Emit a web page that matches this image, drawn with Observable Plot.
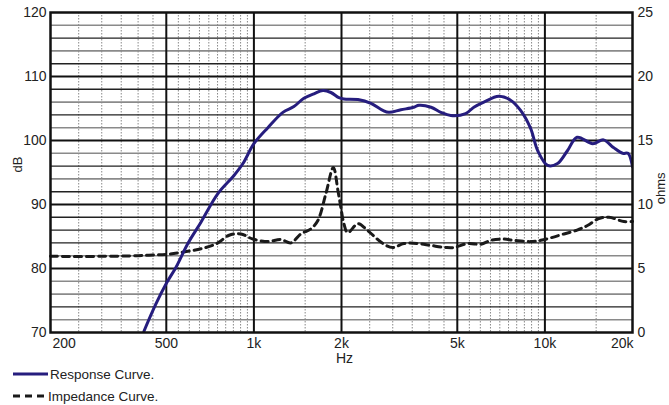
<!DOCTYPE html>
<html>
<head>
<meta charset="utf-8">
<script src="https://cdn.jsdelivr.net/npm/d3@7"></script>
<script src="https://cdn.jsdelivr.net/npm/@observablehq/plot@0.6"></script>
<style>
  body { margin: 0; background: #fff; font-family: "Liberation Sans", Arial, sans-serif; }
  #chart svg { display: block; }
  .legend { font-family: "Liberation Sans", Arial, sans-serif; font-size: 13.5px; color: #222; margin-top: -2px; }
  .row { display: flex; align-items: center; height: 22px; }
  .row svg { margin-left: 12px; margin-right: 2px; }
</style>
</head>
<body>
<div id="chart"></div>
<div class="legend" id="legend"></div>
<script>
// Response curve (dB)
const respFreq = [419, 461, 502, 540, 593, 657, 752, 853, 917, 1000, 1117, 1258, 1372, 1485, 1608, 1727, 1839, 1959, 2038, 2278, 2525, 2775, 2910, 3200, 3545, 3690, 4060, 4390, 4750, 5340, 5700, 6170, 6940, 7620, 8250, 8930, 9450, 10230, 11050, 11950, 12900, 14600, 15900, 17200, 18500, 19300, 20000];
const respDb = [70.2, 74.5, 77.8, 80.2, 83.9, 87.2, 91.7, 94.5, 96.4, 99.5, 102, 104.4, 105.3, 106.6, 107.3, 107.8, 107.5, 106.7, 106.5, 106.4, 105.8, 104.7, 104.4, 104.8, 105.2, 105.5, 105.2, 104.4, 103.9, 104.2, 105.2, 106, 106.9, 106.3, 104.7, 101.9, 98.4, 96.1, 96.4, 98.4, 100.5, 99.5, 100.1, 98.9, 98, 98, 95.9];

// Impedance curve (ohms)
const impFreq = [200, 300, 400, 450, 500, 560, 684, 752, 822, 902, 992, 1117, 1238, 1340, 1450, 1570, 1659, 1768, 1875, 1944, 1990, 2038, 2101, 2278, 2424, 2564, 2775, 3000, 3276, 3660, 4060, 4570, 4870, 5430, 6030, 6520, 7170, 7830, 8930, 9680, 10490, 11630, 12900, 14000, 15320, 16600, 18680, 20000];
const impOhm = [5.95, 5.95, 6.0, 6.05, 6.1, 6.25, 6.64, 7.0, 7.6, 7.7, 7.3, 7.1, 7.27, 7.0, 7.7, 8.1, 8.75, 10.86, 12.9, 11.1, 9.77, 8.5, 7.8, 8.5, 8.1, 7.6, 6.95, 6.64, 6.95, 6.95, 6.8, 6.64, 6.64, 6.95, 6.9, 7.2, 7.3, 7.2, 7.1, 7.2, 7.4, 7.7, 8.0, 8.36, 8.9, 9.0, 8.67, 8.67];

// Axis ticks
const xTicks = [200, 500, 1000, 2000, 5000, 10000, 20000];
const xTickLabels = ["200", "500", "1k", "2k", "5k", "10k", "20k"];
const dbTicks = [70, 80, 90, 100, 110, 120];
const ohmTicks = [0, 5, 10, 15, 20, 25];
const majorX = [500, 1000, 2000, 5000, 10000];
const minorX = [250, 300, 350, 400, 450, 550, 600, 650, 700, 750, 800, 850, 900, 950, 1500, 2500, 3000, 3500, 4000, 4500, 5500, 6000, 6500, 7000, 7500, 8000, 8500, 9000, 9500, 15000];
const darkY = [116, 112, 108, 104, 96, 92, 88, 86, 84, 74];
const grayY = [118, 114, 106, 102, 98, 94, 82, 78, 76, 72];

const ohmToDb = o => 70 + 2 * o;

const resp = respFreq.map((f, i) => ({f, v: respDb[i]}));
const imp = impFreq.map((f, i) => ({f, v: ohmToDb(impOhm[i])}));
const xt = xTicks.map((f, i) => ({f, label: xTickLabels[i]}));

const W = 669, H = 365;
const font = "Liberation Sans, Arial, sans-serif";

const chart = Plot.plot({
  width: W,
  height: H,
  marginLeft: 50,
  marginRight: 37,
  marginTop: 12,
  marginBottom: 33,
  style: {fontFamily: font, fontSize: "14px", color: "#222", background: "#fff"},
  x: {type: "log", domain: [200, 20000], axis: null},
  y: {domain: [70, 120], axis: null},
  marks: [
    Plot.ruleX(minorX, {stroke: "#888", strokeWidth: 1, strokeDasharray: "1.5,1.5"}),
    Plot.ruleY(grayY, {stroke: "#8a8a8a", strokeWidth: 1.6}),
    Plot.ruleY(darkY, {stroke: "#222", strokeWidth: 1.4}),
    Plot.ruleY([80, 90, 100, 110], {stroke: "#111", strokeWidth: 2}),
    Plot.ruleX(majorX, {stroke: "#111", strokeWidth: 2}),
    Plot.line(imp, {x: "f", y: "v", stroke: "#1a1a1a", strokeWidth: 3, strokeDasharray: "7,5", curve: "catmull-rom"}),
    Plot.line(resp, {x: "f", y: "v", stroke: "#261d7e", strokeWidth: 3, curve: "catmull-rom", clip: true}),
    Plot.frame({stroke: "#111", strokeWidth: 2.5}),
    Plot.axisY(dbTicks, {anchor: "left", tickSize: 0, tickPadding: 4, fontSize: 14, label: null}),
    Plot.axisY(dbTicks, {anchor: "right", tickSize: 0, tickPadding: 5, fontSize: 14, label: null, tickFormat: d => String((d - 70) / 2)}),
    Plot.text(xt.slice(0, 1), {x: "f", y: 70, text: "label", textAnchor: "start", dx: 2, dy: 11, fontSize: 14}),
    Plot.text(xt.slice(1, -1), {x: "f", y: 70, text: "label", dy: 11, fontSize: 14}),
    Plot.text(xt.slice(-1), {x: "f", y: 70, text: "label", textAnchor: "end", dx: 1, dy: 11, fontSize: 14}),
    Plot.text(["Hz"], {x: 2000, y: 70, text: d => d, dx: 3, dy: 26.5, fontSize: 14}),
    Plot.text(["dB"], {frameAnchor: "left", text: d => d, rotate: -90, dx: -33, fontSize: 13}),
    Plot.text(["ohms"], {frameAnchor: "right", text: d => d, rotate: -90, dx: 28, fontSize: 13})
  ]
});
document.getElementById("chart").appendChild(chart);

// Legend
const legendItems = [
  {label: "Response Curve.", stroke: "#261d7e", dash: null, len: 36},
  {label: "Impedance Curve.", stroke: "#1a1a1a", dash: "7,5", len: 34}
];
const legend = document.getElementById("legend");
for (const it of legendItems) {
  const row = document.createElement("div");
  row.className = "row";
  row.innerHTML = `<svg width="${it.len}" height="6"><line x1="1" y1="3" x2="${it.len}" y2="3" stroke="${it.stroke}" stroke-width="3" ${it.dash ? `stroke-dasharray="${it.dash}"` : ""}/></svg><span>${it.label}</span>`;
  legend.appendChild(row);
}
</script>
</body>
</html>
